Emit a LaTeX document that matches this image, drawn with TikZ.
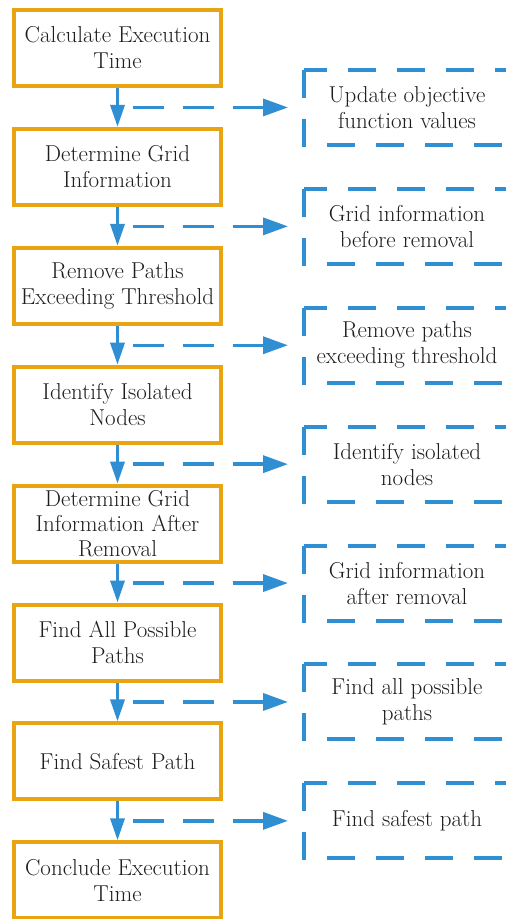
\documentclass[tikz,border=0pt]{standalone}
\usetikzlibrary{positioning,arrows.meta}
\definecolor{stepgold}{HTML}{E8A413}
\definecolor{flowblue}{HTML}{2F8FD2}
\definecolor{textgray}{HTML}{1E1E1E}

\begin{document}
\begin{tikzpicture}[x=1pt,y=1pt,
	stepbox/.style={draw=stepgold,line width=4pt,minimum width=207pt,minimum height=76pt,inner ysep=0pt,align=center,text=textgray,font=\fontsize{23}{26}\selectfont},
	notebox/.style={minimum width=206pt,minimum height=75pt,outer sep=0pt,align=center,text=textgray,font=\fontsize{23}{26}\selectfont},
	flow/.style={flowblue,line width=3.5pt,-{Triangle[length=22pt,width=14pt]}},
	dashflow/.style={flowblue,line width=3.5pt,dash pattern=on 31pt off 19pt,-{Triangle[length=25pt,width=17pt]},shorten <=15pt,shorten >=16pt},
	noteframe/.style={flowblue,line width=4pt,dash pattern=on 28pt off 21pt}]
	\useasboundingbox (0,0) rectangle (506,-919);
	\clip (0,0) rectangle (506,-919);

	% steps on the left
	\node[stepbox] (s1) at (117.5,-48) {Calculate Execution\\Time};
	\node[stepbox,below=38.9pt of s1] (s2) {Determine Grid\\Information};
	\node[stepbox,below=38.9pt of s2] (s3) {Remove Paths\\Exceeding Threshold};
	\node[stepbox,below=38.9pt of s3] (s4) {Identify Isolated\\Nodes};
	\node[stepbox,below=38.9pt of s4,font=\fontsize{23}{25}\selectfont] (s5) {Determine Grid\\Information After\\Removal};
	\node[stepbox,below=38.9pt of s5] (s6) {Find All Possible\\Paths};
	\node[stepbox,below=38.9pt of s6] (s7) {Find Safest Path};
	\node[stepbox,below=38.9pt of s7] (s8) {Conclude Execution\\Time};

	% arrows and the outputs on the right
	\foreach \a/\b/\txt in {1/2/{Update objective\\function values},
			2/3/{Grid information\\before removal},
			3/4/{Remove paths\\exceeding threshold},
			4/5/{Identify isolated\\nodes},
			5/6/{Grid information\\after removal},
			6/7/{Find all possible\\paths},
			7/8/{Find safest path}} {
		\draw[flow] (s\a) -- coordinate (m\a) (s\b);
		\node[notebox,right=186.5pt of m\a] (u\a) {\txt};
		\draw[noteframe] (u\a.north west) rectangle (u\a.south east);
		\draw[dashflow] (m\a) -- (u\a);
	}
\end{tikzpicture}
\end{document}
